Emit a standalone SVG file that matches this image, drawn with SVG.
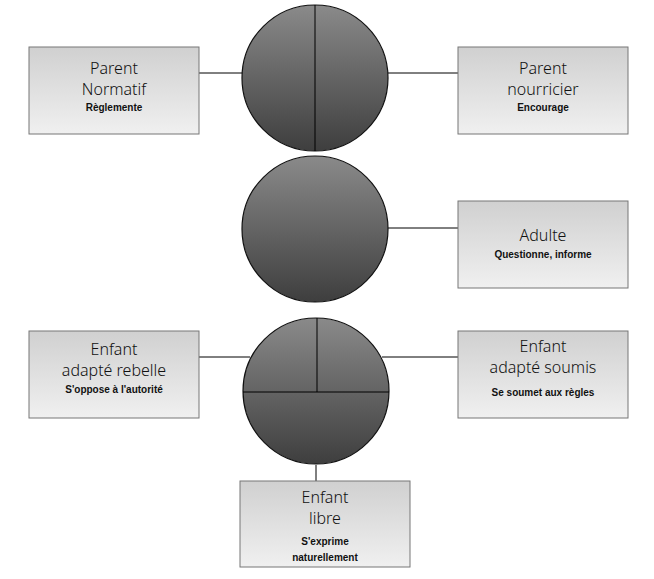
<svg xmlns="http://www.w3.org/2000/svg" width="654" height="579" viewBox="0 0 654 579">
<defs>
<linearGradient id="bg" x1="0" y1="0" x2="0" y2="1"><stop offset="0" stop-color="#d0d0d0"/><stop offset="1" stop-color="#f0f0f0"/></linearGradient>
<linearGradient id="cg" x1="0" y1="0" x2="0" y2="1"><stop offset="0" stop-color="#8a8a8a"/><stop offset="1" stop-color="#3e3e3e"/></linearGradient>
</defs>
<style>
.box{fill:url(#bg);stroke:#777;stroke-width:1}
.c{fill:url(#cg);stroke:#111;stroke-width:1.2}
.ln{stroke:#000;stroke-width:1;fill:none}
.t{font-family:"Noto Sans",sans-serif;font-weight:300;font-size:16px;fill:#111;text-anchor:middle}
.s{font-family:"Liberation Sans",Arial,sans-serif;font-weight:bold;font-size:10px;fill:#111;text-anchor:middle}
</style>
<rect width="654" height="579" fill="#fff"/>
<g id="connectors">
<line class="ln" x1="199" y1="73" x2="243" y2="73"/>
<line class="ln" x1="388" y1="73" x2="458" y2="73"/>
<line class="ln" x1="388" y1="228" x2="458" y2="228"/>
<line class="ln" x1="199" y1="357" x2="250" y2="357"/>
<line class="ln" x1="382" y1="357" x2="458" y2="357"/>
<line class="ln" x1="316" y1="465" x2="316" y2="481" stroke="#777"/>
</g>
<g id="circle-parent">
<circle class="c" cx="315" cy="78" r="73"/>
<line class="ln" x1="315" y1="5" x2="315" y2="151"/>
</g>
<g id="circle-adulte"><circle class="c" cx="315" cy="229" r="73"/></g>
<g id="circle-enfant">
<circle class="c" cx="316" cy="391" r="73"/>
<line class="ln" x1="243" y1="392" x2="389" y2="392"/>
<line class="ln" x1="317" y1="318" x2="317" y2="392"/>
</g>
<g id="parent-normatif"><rect class="box" x="29" y="47" width="170" height="87"/>
<text class="t" x="114" y="74">Parent</text><text class="t" x="114" y="95">Normatif</text><text class="s" x="114" y="111">Règlemente</text></g>
<g id="parent-nourricier"><rect class="box" x="458" y="47" width="170" height="87"/>
<text class="t" x="543" y="74">Parent</text><text class="t" x="543" y="95">nourricier</text><text class="s" x="543" y="111">Encourage</text></g>
<g id="adulte"><rect class="box" x="458" y="201" width="170" height="87"/>
<text class="t" x="543" y="241">Adulte</text><text class="s" x="543" y="258">Questionne, informe</text></g>
<g id="enfant-rebelle"><rect class="box" x="29" y="331" width="170" height="87"/>
<text class="t" x="114" y="355">Enfant</text><text class="t" x="114" y="376">adapté rebelle</text><text class="s" x="114" y="393">S'oppose à l'autorité</text></g>
<g id="enfant-soumis"><rect class="box" x="458" y="331" width="170" height="87"/>
<text class="t" x="543" y="352">Enfant</text><text class="t" x="543" y="373">adapté soumis</text><text class="s" x="543" y="396">Se soumet aux règles</text></g>
<g id="enfant-libre"><rect class="box" x="240" y="481" width="170" height="86"/>
<text class="t" x="325" y="503">Enfant</text><text class="t" x="325" y="524">libre</text><text class="s" x="325" y="545">S'exprime</text><text class="s" x="325" y="561">naturellement</text></g>
</svg>
